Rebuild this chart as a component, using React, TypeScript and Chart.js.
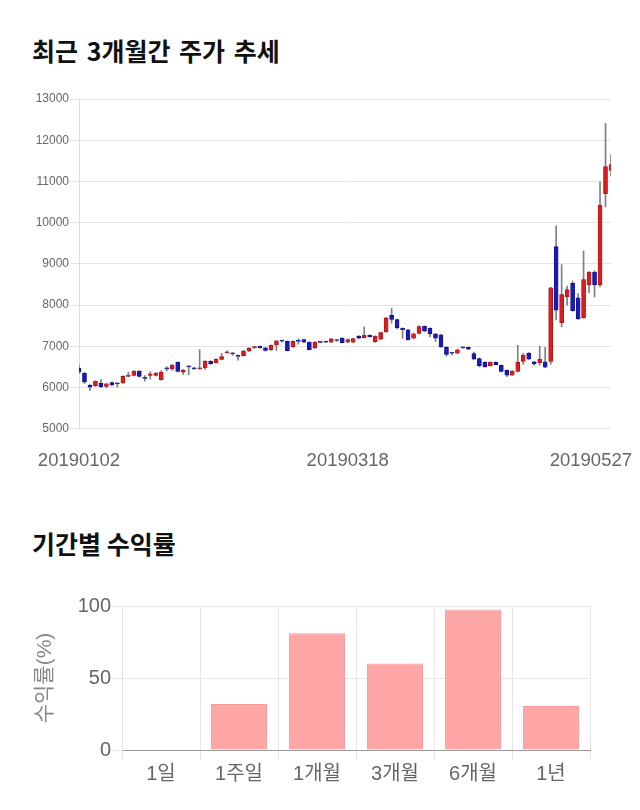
import React, { useEffect, useRef } from 'react';
import { Chart, registerables } from 'chart.js';

Chart.register(...registerables);

const FONT = "'Liberation Sans', 'Noto Sans CJK KR', sans-serif";

// ---------- Candlestick data (3 months) ----------
const dates = [
  '20190102','20190103','20190104','20190107','20190108','20190109','20190110','20190111',
  '20190114','20190115','20190116','20190117','20190118','20190121','20190122','20190123',
  '20190124','20190125','20190128','20190129','20190130','20190131',
  '20190201','20190207','20190208','20190211','20190212','20190213','20190214','20190215',
  '20190218','20190219','20190220','20190221','20190222','20190225','20190226','20190227','20190228',
  '20190304','20190305','20190306','20190307','20190308','20190311','20190312','20190313','20190314',
  '20190315','20190318','20190319','20190320','20190321','20190322','20190325','20190326','20190327',
  '20190328','20190329',
  '20190401','20190402','20190403','20190404','20190405','20190408','20190409','20190410','20190411',
  '20190412','20190415','20190416','20190417','20190418','20190419','20190422','20190423','20190424',
  '20190425','20190426','20190429','20190430',
  '20190502','20190503','20190507','20190508','20190509','20190510','20190513','20190514','20190515',
  '20190516','20190517','20190520','20190521','20190522','20190523','20190524','20190527',
];

const opens = [
  6470, 6350, 6060, 6040, 6100, 6025, 6120, 6100, 6110, 6270,
  6290, 6400, 6230, 6290, 6290, 6190, 6480, 6450, 6610, 6370,
  6510, 6480, 6450, 6475, 6635, 6600, 6680, 6840, 6825, 6780,
  6775, 6885, 6965, 7000, 6965, 6920, 7030, 7135, 7120, 6985,
  7130, 7165, 7100, 6965, 7100, 7110, 7100, 7145, 7200, 7100,
  7100, 7245, 7210, 7270, 7105, 7170, 7350, 7750, 7650, 7435,
  7400, 7195, 7310, 7485, 7435, 7300, 7280, 6980, 6840, 6835,
  6965, 6975, 6820, 6700, 6615, 6530, 6610, 6535, 6415, 6300,
  6390, 6635, 6835, 6625, 6595, 6625, 6635, 9420, 7570, 8200,
  8525, 8175, 7690, 8490, 8800, 8490, 10705, 11265,
];
const highs = [
  6550, 6360, 6070, 6160, 6190, 6100, 6140, 6110, 6280, 6370,
  6410, 6410, 6290, 6380, 6360, 6410, 6500, 6560, 6620, 6440,
  6520, 6490, 6920, 6650, 6650, 6700, 6830, 6890, 6850, 6790,
  6900, 6970, 7000, 7010, 6975, 7035, 7140, 7150, 7130, 7130,
  7180, 7175, 7110, 7110, 7115, 7120, 7190, 7160, 7210, 7175,
  7195, 7260, 7470, 7280, 7255, 7345, 7700, 7920, 7660, 7445,
  7410, 7320, 7500, 7495, 7445, 7310, 7290, 6990, 6850, 6930,
  6980, 6985, 6860, 6720, 6625, 6620, 6620, 6545, 6425, 6410,
  7020, 6830, 6850, 6635, 7000, 6975, 8430, 9920, 8985, 8460,
  8580, 8280, 9310, 8810, 8830, 10990, 12410, 11650,
];
const lows = [
  6340, 6100, 5930, 6030, 6000, 5990, 6040, 6010, 6100, 6260,
  6280, 6250, 6160, 6200, 6280, 6180, 6400, 6420, 6380, 6320,
  6310, 6440, 6440, 6440, 6560, 6590, 6670, 6830, 6780, 6660,
  6760, 6870, 6950, 6950, 6880, 6900, 6900, 7100, 6890, 6975,
  7050, 7090, 6910, 6940, 7080, 7090, 7090, 7120, 7080, 7090,
  7090, 7180, 7200, 7220, 7095, 7160, 7340, 7560, 7420, 7190,
  7150, 7180, 7300, 7355, 7225, 7120, 6970, 6760, 6790, 6820,
  6950, 6920, 6680, 6500, 6490, 6520, 6545, 6380, 6260, 6290,
  6380, 6560, 6680, 6540, 6540, 6480, 6560, 7640, 7470, 8000,
  7850, 7650, 7680, 8300, 8200, 8440, 10380, 11130,
];
const closes = [
  6370, 6130, 6010, 6150, 6020, 6090, 6060, 6090, 6270, 6300,
  6400, 6270, 6220, 6330, 6350, 6370, 6450, 6545, 6390, 6420,
  6500, 6450, 6460, 6635, 6580, 6690, 6750, 6850, 6815, 6755,
  6885, 6950, 6990, 6965, 6900, 7025, 7130, 7125, 6895, 7120,
  7120, 7100, 6920, 7100, 7095, 7100, 7180, 7140, 7090, 7165,
  7185, 7195, 7265, 7235, 7245, 7335, 7690, 7650, 7450, 7405,
  7160, 7305, 7480, 7365, 7305, 7195, 6985, 6800, 6835, 6915,
  6960, 6930, 6690, 6530, 6500, 6610, 6555, 6390, 6300, 6400,
  6610, 6780, 6690, 6580, 6690, 6490, 8420, 7875, 8255, 8375,
  7865, 7665, 8620, 8800, 8490, 10420, 11360, 11410,
];
const dateTickLabels = ['20190102', '20190318', '20190527'];
const priceTicks = { min: 5000, max: 13000, step: 1000 };

// ---------- Period returns ----------
const periods = ['1일', '1주일', '1개월', '3개월', '6개월', '1년'];
const returns = [0, 32, 81, 60, 97.5, 30.5];

const UP = '#d81e20';
const DOWN = '#1a1ab8';

const dateLabelPlugin = {
  id: 'dateLabels',
  afterDraw(chart: any) {
    const ctx = chart.ctx;
    const xs = chart.scales.x;
    ctx.save();
    ctx.font = `18.5px ${FONT}`;
    ctx.fillStyle = '#666';
    ctx.textBaseline = 'middle';
    ctx.textAlign = 'center';
    const y = chart.chartArea.bottom + 32;
    dateTickLabels.forEach((lab) => {
      const idx = dates.indexOf(lab);
      if (idx < 0) return;
      const w = ctx.measureText(lab).width;
      let x = xs.getPixelForValue(idx);
      x = Math.max(w / 2 + 4, Math.min(chart.width - 8 - w / 2, x));
      ctx.fillText(lab, x, y);
    });
    ctx.restore();
  },
};

function CandleChart() {
  const ref = useRef<HTMLCanvasElement>(null);
  useEffect(() => {
    const bodyColors = opens.map((o, i) => (closes[i] >= o ? UP : DOWN));
    const chart = new Chart(ref.current as HTMLCanvasElement, {
      type: 'bar',
      data: {
        labels: dates,
        datasets: [
          {
            label: 'wick',
            data: lows.map((l, i) => [l, highs[i]]) as any,
            backgroundColor: '#808080',
            barThickness: 1,
            grouped: false,
            order: 2,
          } as any,
          {
            label: 'body',
            data: opens.map((o, i) => [o, closes[i]]) as any,
            backgroundColor: bodyColors,
            borderColor: opens.map((o, i) => (closes[i] >= o ? '#9a1010' : '#0c0c80')),
            borderWidth: 0.6,
            borderSkipped: false,
            barThickness: 4,
            minBarLength: 1,
            grouped: false,
            order: 1,
          } as any,
        ],
      },
      options: {
        animation: false,
        responsive: false,
        maintainAspectRatio: false,
        devicePixelRatio: 1,
        layout: { padding: { left: 0, right: 29, top: 19, bottom: 0 } },
        plugins: { legend: { display: false }, tooltip: { enabled: false }, title: { display: false } },
        scales: {
          x: {
            type: 'category',
            offset: false,
            grid: { display: false },
            border: { display: false },
            ticks: { display: false },
            afterFit: (s: any) => { s.height = 51.3; },
          },
          y: {
            min: priceTicks.min,
            max: priceTicks.max,
            ticks: {
              stepSize: priceTicks.step,
              color: '#666',
              font: { size: 12, family: FONT },
              padding: 1,
              callback: (v: any) => String(v),
            },
            grid: { color: '#e4e4e4', tickLength: 9 },
            border: { color: '#dcdcdc' },
            afterFit: (s: any) => { s.width = 79; },
          },
        },
      } as any,
      plugins: [dateLabelPlugin],
    });
    return () => chart.destroy();
  }, []);
  return <canvas ref={ref} width={640} height={400} style={{ position: 'absolute', left: 0, top: 80, width: 640, height: 400 }} />;
}

function ReturnChart() {
  const ref = useRef<HTMLCanvasElement>(null);
  useEffect(() => {
    const chart = new Chart(ref.current as HTMLCanvasElement, {
      type: 'bar',
      data: {
        labels: periods,
        datasets: [
          {
            label: '수익률',
            data: returns,
            backgroundColor: '#ffa6a6',
            borderColor: '#f39a9a',
            borderWidth: 1,
          },
        ],
      },
      options: {
        animation: false,
        responsive: false,
        maintainAspectRatio: false,
        devicePixelRatio: 1,
        layout: { padding: { left: 33, right: 50, top: 26, bottom: 0 } },
        plugins: { legend: { display: false }, tooltip: { enabled: false } },
        scales: {
          x: {
            grid: { color: '#e6e6e6', tickLength: 10, offset: true },
            border: { color: '#9a9a9a' },
            ticks: { color: '#666', font: { size: 20, family: FONT }, padding: 2 },
            afterFit: (s: any) => { s.height = 60; },
          },
          y: {
            min: 0,
            max: 100,
            ticks: {
              stepSize: 50,
              color: '#666',
              font: { size: 20, family: FONT },
              padding: 1,
            },
            grid: { color: '#e6e6e6', tickLength: 10 },
            border: { color: '#e0e0e0' },
            title: {
              display: true,
              text: '수익률(%)',
              color: '#888',
              font: { size: 21, family: FONT },
              padding: { top: 0, bottom: 0 },
            },
            afterFit: (s: any) => { s.width = 89; },
          },
        },
      } as any,
    });
    return () => chart.destroy();
  }, []);
  return <canvas ref={ref} width={640} height={230} style={{ position: 'absolute', left: 0, top: 580, width: 640, height: 230 }} />;
}

const titleStyle: React.CSSProperties = {
  position: 'absolute',
  left: 32,
  fontFamily: "'Noto Sans CJK KR', sans-serif",
  fontWeight: 700,
  fontSize: 25,
  lineHeight: '28px',
  color: '#111',
  whiteSpace: 'nowrap',
};

export default function App() {
  return (
    <div style={{ position: 'absolute', left: 0, top: 0, width: 640, height: 810, background: '#fff', overflow: 'hidden' }}>
      <div style={{ ...titleStyle, top: 36, wordSpacing: '3px' }}>최근 3개월간 주가 추세</div>
      <CandleChart />
      <div style={{ ...titleStyle, top: 529 }}>기간별 수익률</div>
      <ReturnChart />
    </div>
  );
}
